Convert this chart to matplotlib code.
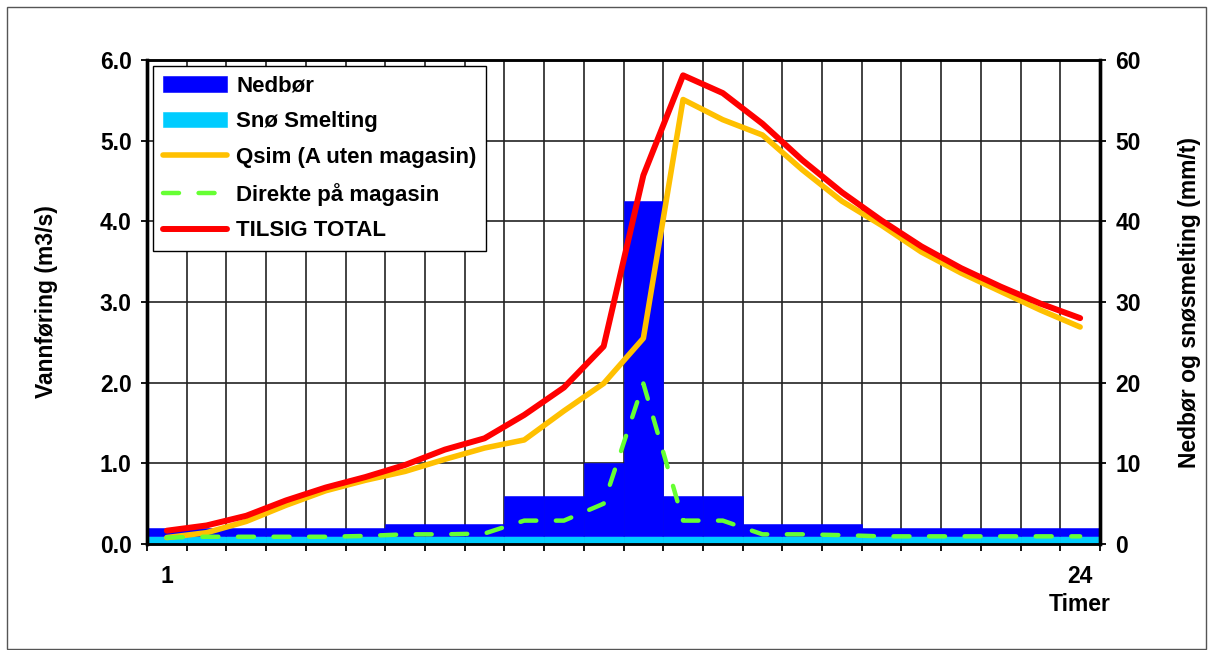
import numpy as np
import matplotlib
matplotlib.use("Agg")
import matplotlib.pyplot as plt
from matplotlib.patches import Rectangle

plt.rcParams["font.family"] = ["Liberation Sans", "DejaVu Sans"]
plt.rcParams["font.weight"] = "bold"
plt.rcParams["axes.labelweight"] = "bold"
plt.rcParams["font.size"] = 16.5

# hourly series, hour 1..24
hours = np.arange(1, 25)

# precipitation and snow melt [mm/t], stacked columns on the right axis
snow_melt = [1] * 24
precip = [1, 1, 1, 1, 1, 1, 1.5, 1.5, 1.5, 5, 5, 9, 41.5,
          5, 5, 1.5, 1.5, 1.5, 1, 1, 1, 1, 1, 1]

# discharge [m3/s] on the left axis
qsim = [0.08, 0.14, 0.28, 0.48, 0.66, 0.79, 0.90, 1.05, 1.19, 1.29, 1.65, 1.99,
        2.55, 5.51, 5.26, 5.07, 4.64, 4.25, 3.95, 3.62, 3.36, 3.13, 2.90, 2.69]
direct = [0.08, 0.09, 0.09, 0.09, 0.09, 0.10, 0.12, 0.12, 0.13, 0.29, 0.29, 0.50,
          1.99, 0.29, 0.29, 0.12, 0.12, 0.11, 0.095, 0.095, 0.095, 0.095, 0.095, 0.095]
total = [0.165, 0.23, 0.35, 0.54, 0.70, 0.83, 0.98, 1.17, 1.31, 1.60, 1.94, 2.45,
         4.57, 5.81, 5.59, 5.21, 4.76, 4.36, 4.01, 3.69, 3.42, 3.19, 2.98, 2.80]

BLUE = "#0000FF"
CYAN = "#00CCFF"
ORANGE = "#FFC000"
GREEN = "#66FF33"
RED = "#FF0000"

fig = plt.figure(figsize=(12.14, 6.5), dpi=100)
fig.patches.append(Rectangle((7 / 1214, 1 / 650), 1199 / 1214, 642 / 650,
                             transform=fig.transFigure, fill=False,
                             edgecolor="#555555", linewidth=1))

# bottom axes: columns (right scale), top twin: lines (left scale)
ax = fig.add_axes([147 / 1214, 1 - 544 / 650, 953 / 1214, 484 / 650])
axl = ax.twinx()
ax.yaxis.tick_right()
ax.yaxis.set_label_position("right")
axl.yaxis.tick_left()
axl.yaxis.set_label_position("left")

ax.bar(hours, snow_melt, width=1.0, color=CYAN, edgecolor=CYAN, linewidth=0.4,
       label="Snø Smelting", zorder=2)
ax.bar(hours, precip, bottom=snow_melt, width=1.0, color=BLUE, edgecolor=BLUE,
       linewidth=0.4, label="Nedbør", zorder=2)

axl.plot(hours, qsim, color=ORANGE, lw=4.0, solid_capstyle="round",
         solid_joinstyle="round", label="Qsim (A uten magasin)", zorder=3)
axl.plot(hours, direct, color=GREEN, lw=3.2, linestyle=(0, (3.6, 4.4)),
         dash_capstyle="round", label="Direkte på magasin", zorder=4)
axl.plot(hours, total, color=RED, lw=4.3, solid_capstyle="round",
         solid_joinstyle="round", label="TILSIG TOTAL", zorder=5)

ax.set_xlim(0.5, 24.5)
ax.set_ylim(0, 60)
axl.set_ylim(0, 6)

# gridlines on hour boundaries, labels only on first and last hour
ax.set_xticks(np.arange(0.5, 24.6, 1.0))
ax.set_xticklabels([])
ax.set_xticks([1, 24], minor=True)
ax.set_xticklabels(["1", "24"], minor=True)
ax.tick_params(axis="x", which="major", direction="out", length=5, width=1.3)
ax.tick_params(axis="x", which="minor", length=0, pad=15)
ax.set_yticks(np.arange(0, 61, 10))
ax.set_yticklabels([f"{v:d}" for v in range(0, 61, 10)])
ax.tick_params(axis="y", direction="out", length=4, width=1.3, pad=7)
axl.set_yticks(np.arange(0, 6.1, 1.0))
axl.set_yticklabels([f"{v:.1f}" for v in np.arange(0, 6.1, 1.0)])
axl.tick_params(axis="y", direction="out", length=4, width=1.3, pad=7)

ax.set_axisbelow(True)
ax.grid(True, which="major", color="#222222", linewidth=1.2)

for a in (ax, axl):
    for side in ("left", "right"):
        a.spines[side].set_linewidth(2.4)
    for side in ("top", "bottom"):
        a.spines[side].set_linewidth(1.8)

axl.set_ylabel("Vannføring (m3/s)", labelpad=30)
ax.set_ylabel("Nedbør og snøsmelting (mm/t)", labelpad=27)
ax.set_xlabel("Timer")
ax.xaxis.set_label_coords(23.5 / 24, -0.102)

h_bar, l_bar = ax.get_legend_handles_labels()
h_line, l_line = axl.get_legend_handles_labels()
handles = [h_bar[1], h_bar[0]] + h_line
labels = [l_bar[1], l_bar[0]] + l_line
leg = axl.legend(handles, labels, loc="upper left", bbox_to_anchor=(0.006, 0.988),
                 borderaxespad=0, fancybox=False, framealpha=1, edgecolor="black",
                 handlelength=2.9, handletextpad=0.4, labelspacing=0.66,
                 borderpad=0.45, fontsize=16)
leg.get_frame().set_linewidth(1.0)

fig.savefig("out.png", dpi=100)
